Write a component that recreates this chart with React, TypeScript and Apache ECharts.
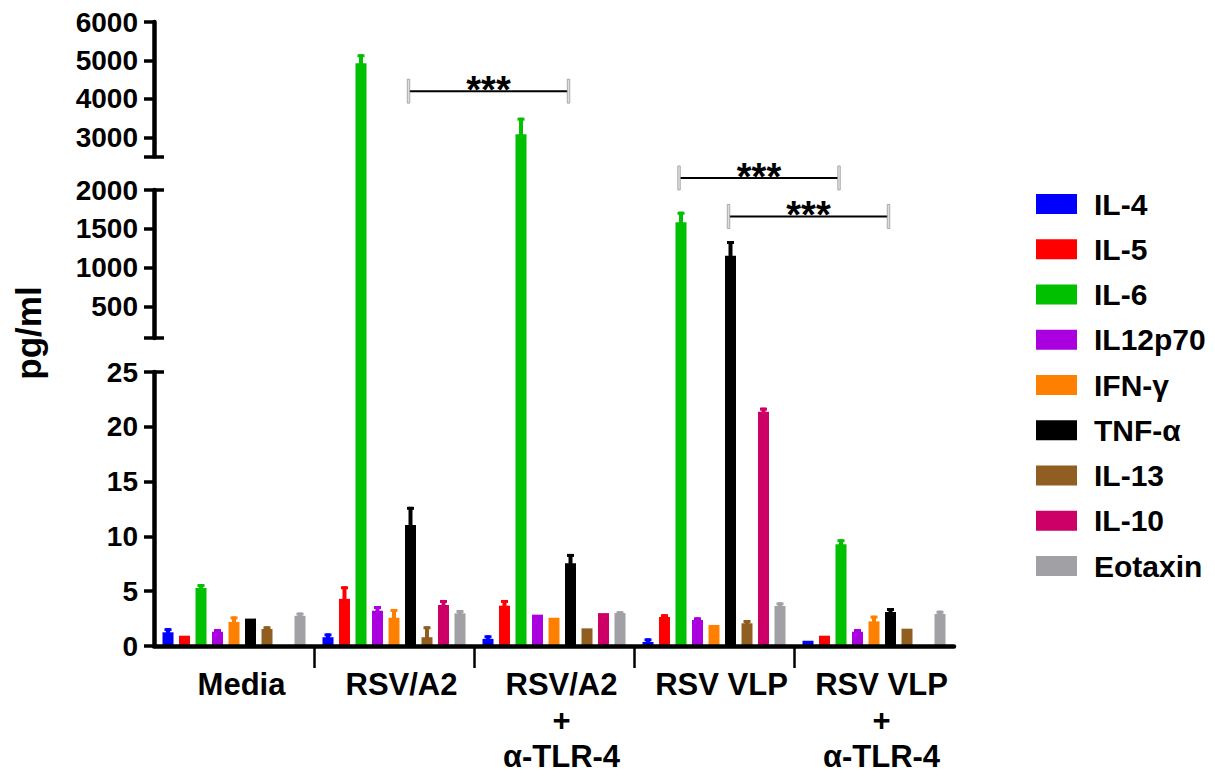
import React, { useEffect, useRef } from 'react';
import * as echarts from 'echarts';

// ---------------- data ----------------
const groups = ['Media', 'RSV/A2', 'RSV/A2\n+\nα-TLR-4', 'RSV VLP', 'RSV VLP\n+\nα-TLR-4'];
const cytokines = ['IL-4', 'IL-5', 'IL-6', 'IL12p70', 'IFN-γ', 'TNF-α', 'IL-13', 'IL-10', 'Eotaxin'];

const il4 = [1.25, 0.8, 0.65, 0.37, 0.48];
const il4Err = [0.38, 0.35, 0.33, 0.33, 0];
const il5 = [0.94, 4.3, 3.68, 2.65, 0.94];
const il5Err = [0, 1.15, 0.52, 0.25, 0];
const il6 = [5.3, 4925, 3078, 1585, 9.28];
const il6Err = [0.35, 235, 432, 136, 0.46];
const il12p70 = [1.3, 3.22, 2.86, 2.37, 1.3];
const il12p70Err = [0.25, 0.43, 0, 0.25, 0.25];
const ifnG = [2.2, 2.58, 2.58, 1.92, 2.25];
const ifnGErr = [0.5, 0.8, 0, 0, 0.52];
const tnfA = [2.5, 11.04, 7.55, 1157, 3.1];
const tnfAErr = [0, 1.66, 0.85, 188, 0.37];
const il13 = [1.55, 0.8, 1.61, 2.07, 1.58];
const il13Err = [0.25, 1.0, 0, 0.3, 0];
const il10 = [0, 3.74, 3.0, 21.38, 0];
const il10Err = [0, 0.46, 0, 0.37, 0];
const eotaxin = [2.75, 2.98, 3.0, 3.65, 2.92];
const eotaxinErr = [0.3, 0.3, 0.17, 0.33, 0.3];

// y-axis segments (broken axis) and their tick labels
const segRanges = [[0, 25], [100, 2000], [2500, 6000]];
const seg1Ticks = [0, 5, 10, 15, 20, 25];
const seg2Ticks = [500, 1000, 1500, 2000];
const seg3Ticks = [3000, 4000, 5000, 6000];

// significance brackets: group from -> group to, cytokine slot, height (pg/ml)
const bracketFrom = [1, 3, 3];
const bracketTo = [2, 4, 4];
const bracketSlot = [5, 2, 5];
const bracketY = [4200, 2180, 1660];
const bracketText = ['***', '***', '***'];

// ---------------- styles / layout ----------------
const colors = ['#0000FF', '#FF0000', '#00C000', '#AA00E0', '#FF8000', '#000000', '#8F5E20', '#CC0066', '#A0A0A5'];
const FONT = 'Liberation Sans, Arial, Helvetica, sans-serif';
const BASE = 646; // pixel of value 0
const LEFT = 154;
const PLOT_W = 800;
const SEG_PX = [[646, 372], [338, 190], [156.5, 22]]; // [bottom, top] pixel of each segment
const BAR_W = 11;
const SLOT = 16.5;

const values = [il4, il5, il6, il12p70, ifnG, tnfA, il13, il10, eotaxin];
const errors = [il4Err, il5Err, il6Err, il12p70Err, ifnGErr, tnfAErr, il13Err, il10Err, eotaxinErr];

// piecewise linear scale for the broken axis (virtual units = px above baseline)
const scalePts: number[][] = [];
segRanges.forEach((r, i) => {
  scalePts.push([r[0], BASE - SEG_PX[i][0]]);
  scalePts.push([r[1], BASE - SEG_PX[i][1]]);
});
const VMAX = scalePts[scalePts.length - 1][1];
function toVirtual(v: number): number {
  if (v <= scalePts[0][0]) return scalePts[0][1];
  for (let k = 0; k < scalePts.length - 1; k++) {
    const a = scalePts[k];
    const b = scalePts[k + 1];
    if (v <= b[0]) return a[1] + ((v - a[0]) / (b[0] - a[0])) * (b[1] - a[1]);
  }
  return VMAX;
}

export default function App() {
  const ref = useRef<HTMLDivElement>(null);
  useEffect(() => {
    if (!ref.current) return;
    const chart = echarts.init(ref.current, null, { renderer: 'svg' });

    const barSeries: any[] = values.map((arr, i) => ({
      type: 'bar',
      name: cytokines[i],
      xAxisIndex: 0,
      yAxisIndex: 0,
      barWidth: BAR_W,
      barGap: '50%',
      itemStyle: { color: colors[i] },
      data: arr.map((v) => (v > 0 ? toVirtual(v) : '-')),
      z: 2,
    }));

    const errData: number[][] = [];
    values.forEach((arr, i) => {
      arr.forEach((v, g) => {
        const e = errors[i][g];
        if (v > 0 && e > 0) errData.push([g, i, v, e]);
      });
    });

    const errSeries = {
      type: 'custom',
      xAxisIndex: 0,
      yAxisIndex: 0,
      z: 3,
      silent: true,
      data: errData,
      renderItem: (params: any, api: any) => {
        const g = api.value(0);
        const i = api.value(1);
        const v = api.value(2);
        const e = api.value(3);
        const xc = api.coord([g, 0])[0] + (i - 4) * SLOT;
        const yTop = api.coord([g, toVirtual(v)])[1];
        const yErr = api.coord([g, toVirtual(v + e)])[1];
        return {
          type: 'group',
          children: [
            { type: 'rect', shape: { x: xc - 2, y: yErr, width: 4, height: Math.max(0, yTop - yErr) + 1 }, style: { fill: colors[i] } },
            { type: 'rect', shape: { x: xc - 3.5, y: yErr, width: 7, height: 3 }, style: { fill: colors[i] } },
          ],
        };
      },
    };

    const brData = bracketFrom.map((f, k) => [f, bracketTo[k], bracketSlot[k], bracketY[k], k]);
    const bracketSeries = {
      type: 'custom',
      xAxisIndex: 0,
      yAxisIndex: 0,
      z: 4,
      silent: true,
      data: brData,
      renderItem: (params: any, api: any) => {
        const f = api.value(0);
        const t = api.value(1);
        const s = api.value(2);
        const yv = api.value(3);
        const k = api.value(4);
        const x1 = api.coord([f, 0])[0] + (s - 4) * SLOT - 2;
        const x2 = api.coord([t, 0])[0] + (s - 4) * SLOT - 2;
        const yy = api.coord([f, toVirtual(yv)])[1];
        return {
          type: 'group',
          children: [
            { type: 'line', shape: { x1, y1: yy, x2, y2: yy }, style: { stroke: '#000', lineWidth: 2 } },
            { type: 'rect', shape: { x: x1 - 1.25, y: yy - 12, width: 2.5, height: 24 }, style: { fill: '#dedede', stroke: '#9a9a9a', lineWidth: 0.8 } },
            { type: 'rect', shape: { x: x2 - 1.25, y: yy - 12, width: 2.5, height: 24 }, style: { fill: '#dedede', stroke: '#9a9a9a', lineWidth: 0.8 } },
            {
              type: 'text',
              style: {
                x: (x1 + x2) / 2,
                y: yy - 1,
                text: bracketText[k],
                fill: '#000',
                font: `bold 38px ${FONT}`,
                textAlign: 'center',
                textVerticalAlign: 'middle',
              },
            },
          ],
        };
      },
    };

    const grids = [
      { left: LEFT, width: PLOT_W, top: SEG_PX[2][1], height: BASE - SEG_PX[2][1], outerBoundsMode: 'none', containLabel: false },
      ...SEG_PX.map((p) => ({ left: LEFT, width: PLOT_W, top: p[1], height: p[0] - p[1], outerBoundsMode: 'none', containLabel: false })),
    ];

    const axisLineStyle = { show: true, lineStyle: { color: '#000', width: 4.5 } };
    const tickStyle = { color: '#000', width: 3.5 };
    const labelStyle = {
      color: '#000',
      fontSize: 28,
      fontWeight: 'bold' as const,
      fontFamily: FONT,
      margin: 16,
      formatter: (v: number) => String(v),
    };

    const option: any = {
      animation: false,
      backgroundColor: '#fff',
      textStyle: { fontFamily: FONT },
      grid: grids,
      legend: {
        data: cytokines,
        orient: 'vertical',
        left: 1031,
        top: 184,
        itemWidth: 41,
        itemHeight: 20,
        itemGap: 15.25,
        icon: 'rect',
        selectedMode: false,
        textStyle: { color: '#000', fontSize: 30, fontWeight: 'bold', fontFamily: FONT, lineHeight: 30, padding: [0, 0, 0, 12] },
      },
      xAxis: [
        {
          gridIndex: 0,
          type: 'category',
          data: groups,
          position: 'bottom',
          z: 10,
          axisLine: axisLineStyle,
          axisTick: { show: false },
          axisLabel: {
            interval: 0,
            color: '#000',
            fontSize: 31,
            fontWeight: 'bold',
            fontFamily: FONT,
            lineHeight: 36,
            margin: 20,
            padding: [0, 0, 0, 15],
          },
          splitLine: { show: false },
        },
        {
          gridIndex: 0,
          type: 'value',
          min: 0,
          max: groups.length,
          position: 'bottom',
          axisLine: { show: false },
          axisLabel: { show: false },
          splitLine: { show: false },
          axisTick: { show: true, customValues: [1, 2, 3, 4], length: 22, lineStyle: { color: '#000', width: 2.5 } },
        },
        { gridIndex: 1, type: 'category', data: groups, show: false },
        { gridIndex: 2, type: 'category', data: groups, show: false },
        { gridIndex: 3, type: 'category', data: groups, show: false },
      ],
      yAxis: [
        { gridIndex: 0, type: 'value', min: 0, max: VMAX, show: false },
        {
          gridIndex: 1,
          type: 'value',
          position: 'left',
          min: segRanges[0][0],
          max: segRanges[0][1],
          interval: 5,
          axisLine: axisLineStyle,
          axisTick: { show: true, length: 10, lineStyle: tickStyle, customValues: seg1Ticks },
          axisLabel: { ...labelStyle, customValues: seg1Ticks },
          splitLine: { show: false },
        },
        {
          gridIndex: 2,
          type: 'value',
          position: 'left',
          min: segRanges[1][0],
          max: segRanges[1][1],
          axisLine: axisLineStyle,
          axisTick: { show: true, length: 10, lineStyle: tickStyle, customValues: [segRanges[1][0], ...seg2Ticks] },
          axisLabel: { ...labelStyle, customValues: seg2Ticks },
          splitLine: { show: false },
        },
        {
          gridIndex: 3,
          type: 'value',
          position: 'left',
          min: segRanges[2][0],
          max: segRanges[2][1],
          axisLine: axisLineStyle,
          axisTick: { show: true, length: 10, lineStyle: tickStyle, customValues: [segRanges[2][0], ...seg3Ticks] },
          axisLabel: { ...labelStyle, customValues: seg3Ticks },
          splitLine: { show: false },
        },
        // right-hand caps at segment ends
        {
          gridIndex: 1, type: 'value', position: 'left', min: segRanges[0][0], max: segRanges[0][1],
          axisLine: { show: false }, axisLabel: { show: false }, splitLine: { show: false },
          axisTick: { show: true, inside: true, length: 10, lineStyle: tickStyle, customValues: [segRanges[0][1]] },
        },
        {
          gridIndex: 2, type: 'value', position: 'left', min: segRanges[1][0], max: segRanges[1][1],
          axisLine: { show: false }, axisLabel: { show: false }, splitLine: { show: false },
          axisTick: { show: true, inside: true, length: 10, lineStyle: tickStyle, customValues: [segRanges[1][0], segRanges[1][1]] },
        },
        {
          gridIndex: 3, type: 'value', position: 'left', min: segRanges[2][0], max: segRanges[2][1],
          axisLine: { show: false }, axisLabel: { show: false }, splitLine: { show: false },
          axisTick: { show: true, inside: true, length: 10, lineStyle: tickStyle, customValues: [segRanges[2][0]] },
        },
      ],
      graphic: [
        {
          type: 'text',
          x: 28,
          y: 333,
          rotation: Math.PI / 2,
          style: { text: 'pg/ml', fill: '#000', font: `bold 35px ${FONT}`, textAlign: 'center', textVerticalAlign: 'middle' },
        },
      ],
      series: [...barSeries, errSeries, bracketSeries],
    };

    chart.setOption(option);
    return () => chart.dispose();
  }, []);

  return <div ref={ref} style={{ position: 'absolute', left: 0, top: 0, width: 1215, height: 778 }} />;
}
